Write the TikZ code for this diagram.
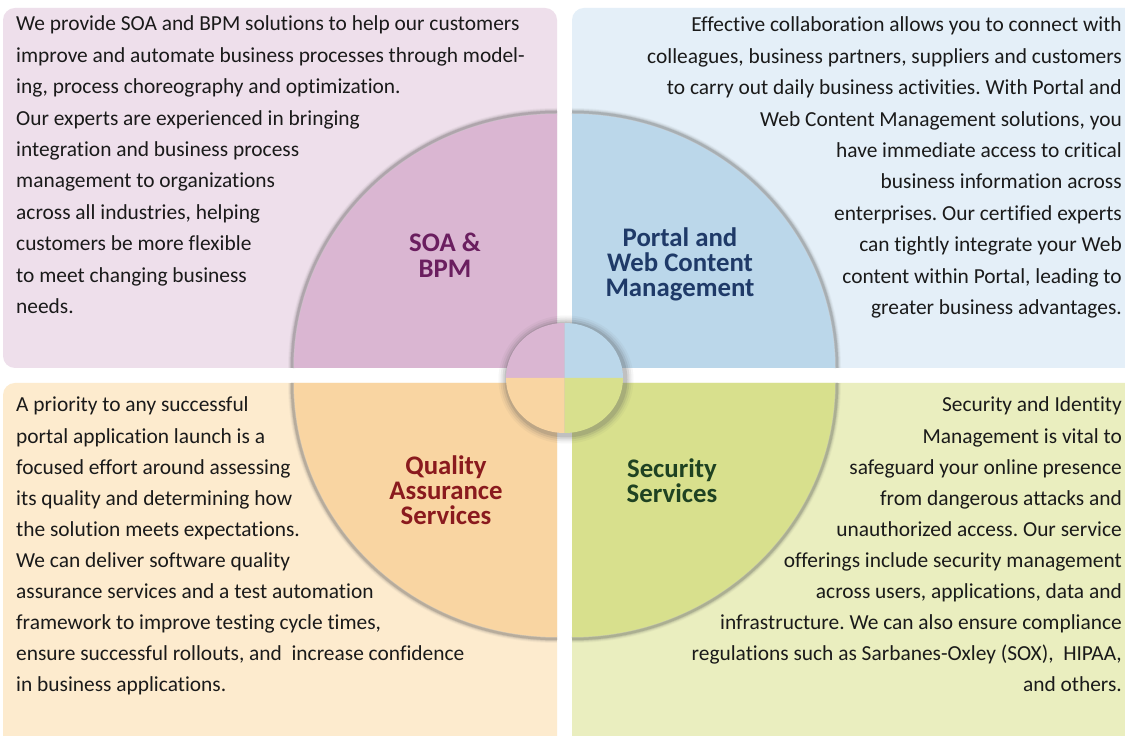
\documentclass[tikz,border=0pt]{standalone}
\usepackage{fontspec}
\setmainfont{Carlito}[Ligatures=NoCommon]
\frenchspacing
\definecolor{tlL}{HTML}{EEDFEB}
\definecolor{tlD}{HTML}{DAB6D2}
\definecolor{trL}{HTML}{E4EFF8}
\definecolor{trD}{HTML}{BBD7EA}
\definecolor{blL}{HTML}{FDEBCE}
\definecolor{blD}{HTML}{F9D5A2}
\definecolor{brL}{HTML}{EAEEBF}
\definecolor{brD}{HTML}{D8E08D}
\definecolor{txt}{HTML}{1A1A1A}
\definecolor{tSOA}{HTML}{6A1E5F}
\definecolor{tPOR}{HTML}{1F3A68}
\definecolor{tQA}{HTML}{8A1A1E}
\definecolor{tSEC}{HTML}{1F4222}
\definecolor{shd}{HTML}{5A5A5A}
\tikzset{
  body/.style={inner sep=0pt, text=txt, font=\fontsize{21.4}{31.4}\selectfont\frenchspacing},
  ttl/.style={inner sep=0pt, anchor=base, font=\fontsize{26.8}{25}\selectfont\bfseries},
}
\begin{document}
\begin{tikzpicture}[x=1pt,y=1pt]
\useasboundingbox (0,0) rectangle (1125,736);
\clip (0,0) rectangle (1125,736);
\fill[white] (0,0) rectangle (1125,736);
% panels
\fill[tlL, rounded corners=12] (3,368) rectangle (557,728);
\fill[trL, rounded corners=12] (572,368) rectangle (1145,728);
\fill[blL, rounded corners=12] (3,-20) rectangle (557,353);
\fill[brL, rounded corners=12] (572,-20) rectangle (1145,353);
% quarter shadows
\foreach \w/\o in {8/0.05,6/0.09,4/0.14,2.5/0.22} {
  \draw[shd, opacity=\o, line width=\w] (557,624) arc[start angle=90,end angle=180,x radius=265,y radius=256];
  \draw[shd, opacity=\o, line width=\w] (572,624) arc[start angle=90,end angle=0,x radius=265,y radius=256];
  \draw[shd, opacity=\o, line width=\w] (292,353) arc[start angle=180,end angle=270,x radius=265,y radius=256];
  \draw[shd, opacity=\o, line width=\w] (837,353) arc[start angle=0,end angle=-90,x radius=265,y radius=256];
}
% quarters
\fill[tlD] (557,368) -- (294,368) arc[start angle=180,end angle=90,x radius=263,y radius=254] -- cycle;
\fill[trD] (572,368) -- (572,622) arc[start angle=90,end angle=0,x radius=263,y radius=254] -- cycle;
\fill[blD] (557,353) -- (294,353) arc[start angle=180,end angle=270,x radius=263,y radius=254] -- cycle;
\fill[brD] (572,353) -- (835,353) arc[start angle=0,end angle=-90,x radius=263,y radius=254] -- cycle;
% centre circle shadow
\foreach \r/\o in {9/0.05,7/0.08,5/0.12,3/0.18}
  \fill[shd, opacity=\o] (566,356.5) ellipse[x radius={58.5+\r}, y radius={55+\r}];
% centre circle
\coordinate (cc) at (564.5,358);
\fill[tlD] (cc) -- ++(-58.5,0) arc[start angle=180,end angle=90,x radius=58.5,y radius=55] -- cycle;
\fill[trD] (cc) -- ++(0,55) arc[start angle=90,end angle=0,x radius=58.5,y radius=55] -- cycle;
\fill[blD] (cc) -- ++(-58.5,0) arc[start angle=180,end angle=270,x radius=58.5,y radius=55] -- cycle;
\fill[brD] (cc) -- ++(58.5,0) arc[start angle=0,end angle=-90,x radius=58.5,y radius=55] -- cycle;
% titles
\node[ttl, text=tSOA] (soa1) at (445,484) {SOA \&};
\node[ttl, text=tSOA] (soa2) at (445,458) {BPM};
\node[ttl, text=tPOR] (por1) at (680,489) {Portal and};
\node[ttl, text=tPOR] (por2) at (680,464) {Web Content};
\node[ttl, text=tPOR] (por3) at (680,439) {Management};
\node[ttl, text=tQA] (qa1) at (446,261) {Quality};
\node[ttl, text=tQA] (qa2) at (446,236) {Assurance};
\node[ttl, text=tQA] (qa3) at (446,211) {Services};
\node[ttl, text=tSEC] (sec1) at (672,258) {Security};
\node[ttl, text=tSEC] (sec2) at (672,233) {Services};
% body texts
\foreach \t [count=\i] in {
  {We provide SOA and BPM solutions to help our customers},
  {improve and automate business processes through model-},
  {ing, process choreography and optimization.},
  {Our experts are experienced in bringing},
  {integration and business process},
  {management to organizations},
  {across all industries, helping},
  {customers be more flexible},
  {to meet changing business},
  {needs.}}
  \node[body, anchor=base west] (tl\i) at (16,{705-31.4*(\i-1)}) {\t};
\foreach \t [count=\i] in {
  {Effective collaboration allows you to connect with},
  {colleagues, business partners, suppliers and customers},
  {to carry out daily business activities. With Portal and},
  {Web Content Management solutions, you},
  {have immediate access to critical},
  {business information across},
  {enterprises. Our certified experts},
  {can tightly integrate your Web},
  {content within Portal, leading to},
  {greater business advantages.}}
  \node[body, anchor=base east] (tr\i) at (1122,{704-31.4*(\i-1)}) {\t};
\foreach \t [count=\i] in {
  {A priority to any successful},
  {portal application launch is a},
  {focused effort around assessing},
  {its quality and determining how},
  {the solution meets expectations.},
  {We can deliver software quality},
  {assurance services and a test automation},
  {framework to improve testing cycle times,},
  {ensure successful rollouts, and\ \ increase confidence},
  {in business applications.}}
  \node[body, anchor=base west] (bl\i) at (16,{324-31.1*(\i-1)}) {\t};
\foreach \t [count=\i] in {
  {Security and Identity},
  {Management is vital to},
  {safeguard your online presence},
  {from dangerous attacks and},
  {unauthorized access. Our service},
  {offerings include security management},
  {across users, applications, data and},
  {infrastructure. We can also ensure compliance},
  {regulations such as Sarbanes-Oxley (SOX),\ \ HIPAA,},
  {and others.}}
  \node[body, anchor=base east] (br\i) at (1122,{324-31.1*(\i-1)}) {\t};
\end{tikzpicture}
\end{document}
